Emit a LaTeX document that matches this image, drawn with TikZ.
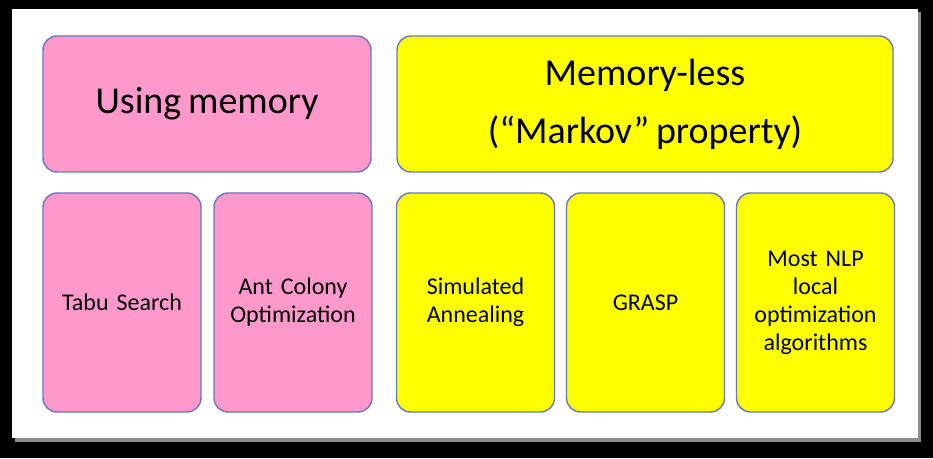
\documentclass[tikz,border=0pt]{standalone}
\usepackage{fontspec}
\setmainfont{Carlito}[WordSpace=0.8]
\usepackage{xcolor}
\definecolor{boxpink}{RGB}{255, 153, 204}
\definecolor{boxyellow}{RGB}{255, 255, 0}
\definecolor{boxedge}{RGB}{105, 120, 185}
\usepackage{tikz}
\usetikzlibrary{positioning}

\begin{document}
\begin{tikzpicture}[
    x=1pt, y=1pt,
    every text node part/.style={align=center},
    box/.style={draw=boxedge, line width=1.4pt, rounded corners=14pt, outer sep=0pt, inner sep=4pt, text=black},
    headbox/.style={box, minimum height=136pt, font=\fontsize{38}{58}\selectfont},
    algbox/.style={box, minimum width=157pt, minimum height=219pt, text width=150pt, font=\fontsize{24}{28}\selectfont},
    pinkbox/.style={fill=boxpink},
    yellowbox/.style={fill=boxyellow},
    node distance=12pt
]

% ==================== SLIDE FRAME ====================
\fill[black] (0,0) rectangle (933,458);
\fill[black!45] (15,16) rectangle (921,446);
\fill[white] (12,20) rectangle (918,449);
\useasboundingbox (0,0) rectangle (933,458);

% ==================== HEADERS ====================
\node[headbox, pinkbox, minimum width=328pt] (mem) at (207,354) {Using memory};
\node[headbox, yellowbox, minimum width=496pt] (nomem) at (645,354) {Memory-less\\(``Markov'' property)};

% ==================== ALGORITHMS ====================
\node[algbox, pinkbox] (tabu) at (122,155.5) {Tabu Search};
\node[algbox, pinkbox, right=13pt of tabu] (aco) {Ant Colony\\Optimization};
\node[algbox, yellowbox] (sa) at (475.5,155.5) {Simulated\\Annealing};
\node[algbox, yellowbox, right=of sa] (grasp) {GRASP};
\node[algbox, yellowbox, right=of grasp] (nlp) {Most NLP\\local\\optimization\\algorithms};

\end{tikzpicture}
\end{document}
